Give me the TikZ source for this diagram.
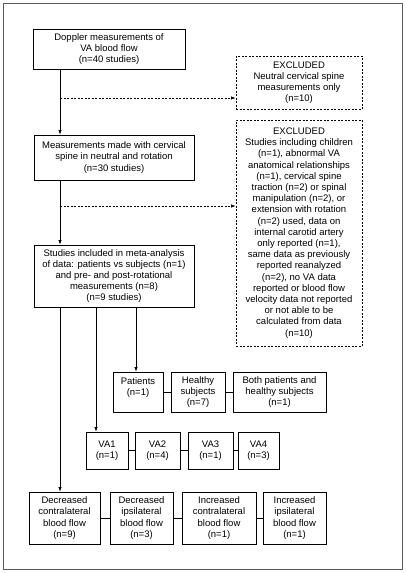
\documentclass[tikz,border=0pt]{standalone}
\usepackage{fontspec}
\setmainfont{Liberation Sans}
\usetikzlibrary{arrows.meta}

\begin{document}
\begin{tikzpicture}[x=1pt,y=-1pt,
    box/.style={draw,line width=0.7pt,align=center,inner sep=0pt,
      font=\fontsize{9.5}{11.2}\selectfont},
    exbox/.style={box,dash pattern=on 2pt off 1.5pt},
    arr/.style={-{Latex[length=4.5pt,width=3.2pt]},line width=0.6pt},
    darr/.style={arr,dash pattern=on 2pt off 1.5pt}]
    \useasboundingbox (0,0) rectangle (405,573);
    \draw[gray!70!black,line width=0.6pt] (3,3) rectangle (402,569);

    % main column
    \node[box,minimum width=152pt,minimum height=40pt] (doppler) at (109,49)
      {Doppler measurements of\\VA blood flow\\(n=40 studies)};
    \node[box,minimum width=160pt,minimum height=45pt] (rotation) at (114,157.5)
      {Measurements made with cervical\\spine in neutral and rotation\\(n=30 studies)};
    \node[box,minimum width=160pt,minimum height=62pt] (included) at (114,276)
      {Studies included in meta-analysis\\of data: patients vs subjects (n=1)\\and pre- and post-rotational\\measurements (n=8)\\(n=9 studies)};

    % excluded
    \node[exbox,minimum width=126pt,minimum height=53pt] (exneutral) at (299,82.5)
      {EXCLUDED\\Neutral cervical spine\\measurements only\\(n=10)};
    \node[exbox,minimum width=126pt,minimum height=226pt] (exother) at (299,233)
      {EXCLUDED\\Studies including children\\(n=1), abnormal VA\\anatomical relationships\\(n=1), cervical spine\\traction (n=2) or spinal\\manipulation (n=2), or\\extension with rotation\\(n=2) used, data on\\internal carotid artery\\only reported (n=1),\\same data as previously\\reported reanalyzed\\(n=2), no VA data\\reported or blood flow\\velocity data not reported\\or not able to be\\calculated from data\\(n=10)};

    % subjects row
    \node[box,minimum width=50pt,minimum height=40pt] (patients) at (138,392) {Patients\\(n=1)\\\mbox{}};
    \node[box,minimum width=54pt,minimum height=40pt] (healthy) at (198,392) {Healthy\\subjects\\(n=7)};
    \node[box,minimum width=93pt,minimum height=40pt] (both) at (279.5,392) {Both patients and\\healthy subjects\\(n=1)};

    % VA row
    \node[box,minimum width=42pt,minimum height=37pt] (vaone) at (107,450.5) {VA1\\(n=1)};
    \node[box,minimum width=45pt,minimum height=37pt] (vatwo) at (157.5,450.5) {VA2\\(n=4)};
    \node[box,minimum width=45pt,minimum height=37pt] (vathree) at (210.5,450.5) {VA3\\(n=1)};
    \node[box,minimum width=41pt,minimum height=37pt] (vafour) at (258.5,450.5) {VA4\\(n=3)};

    % blood flow row
    \node[box,minimum width=71pt,minimum height=52pt] (deccontra) at (64.5,518) {Decreased\\contralateral\\blood flow\\(n=9)};
    \node[box,minimum width=63pt,minimum height=52pt] (decipsi) at (141.5,518) {Decreased\\ipsilateral\\blood flow\\(n=3)};
    \node[box,minimum width=74pt,minimum height=52pt] (inccontra) at (219,518) {Increased\\contralateral\\blood flow\\(n=1)};
    \node[box,minimum width=63pt,minimum height=52pt] (incipsi) at (294.5,518) {Increased\\ipsilateral\\blood flow\\(n=1)};

    % connectors
    \coordinate (trunk) at (60,0);
    \coordinate (valine) at (96,0);
    \coordinate (subline) at (136,0);
    \draw[arr] (trunk |- doppler.south) -- (trunk |- rotation.north);
    \draw[darr] (60,98) -- (exneutral.west |- 0,98);
    \draw[arr] (trunk |- rotation.south) -- (trunk |- included.north);
    \draw[darr] (60,206) -- (exother.west |- 0,206);
    \draw[arr] (trunk |- included.south) -- (trunk |- deccontra.north);
    \draw[arr] (valine |- included.south) -- (valine |- vaone.north);
    \draw[arr] (subline |- included.south) -- (subline |- patients.north);
    \draw[line width=0.6pt] (patients) -- (healthy) (healthy) -- (both);
    \draw[line width=0.6pt] (vaone) -- (vatwo) (vatwo) -- (vathree) (vathree) -- (vafour);
    \draw[line width=0.6pt] (deccontra) -- (decipsi) (decipsi) -- (inccontra) (inccontra) -- (incipsi);
\end{tikzpicture}
\end{document}
